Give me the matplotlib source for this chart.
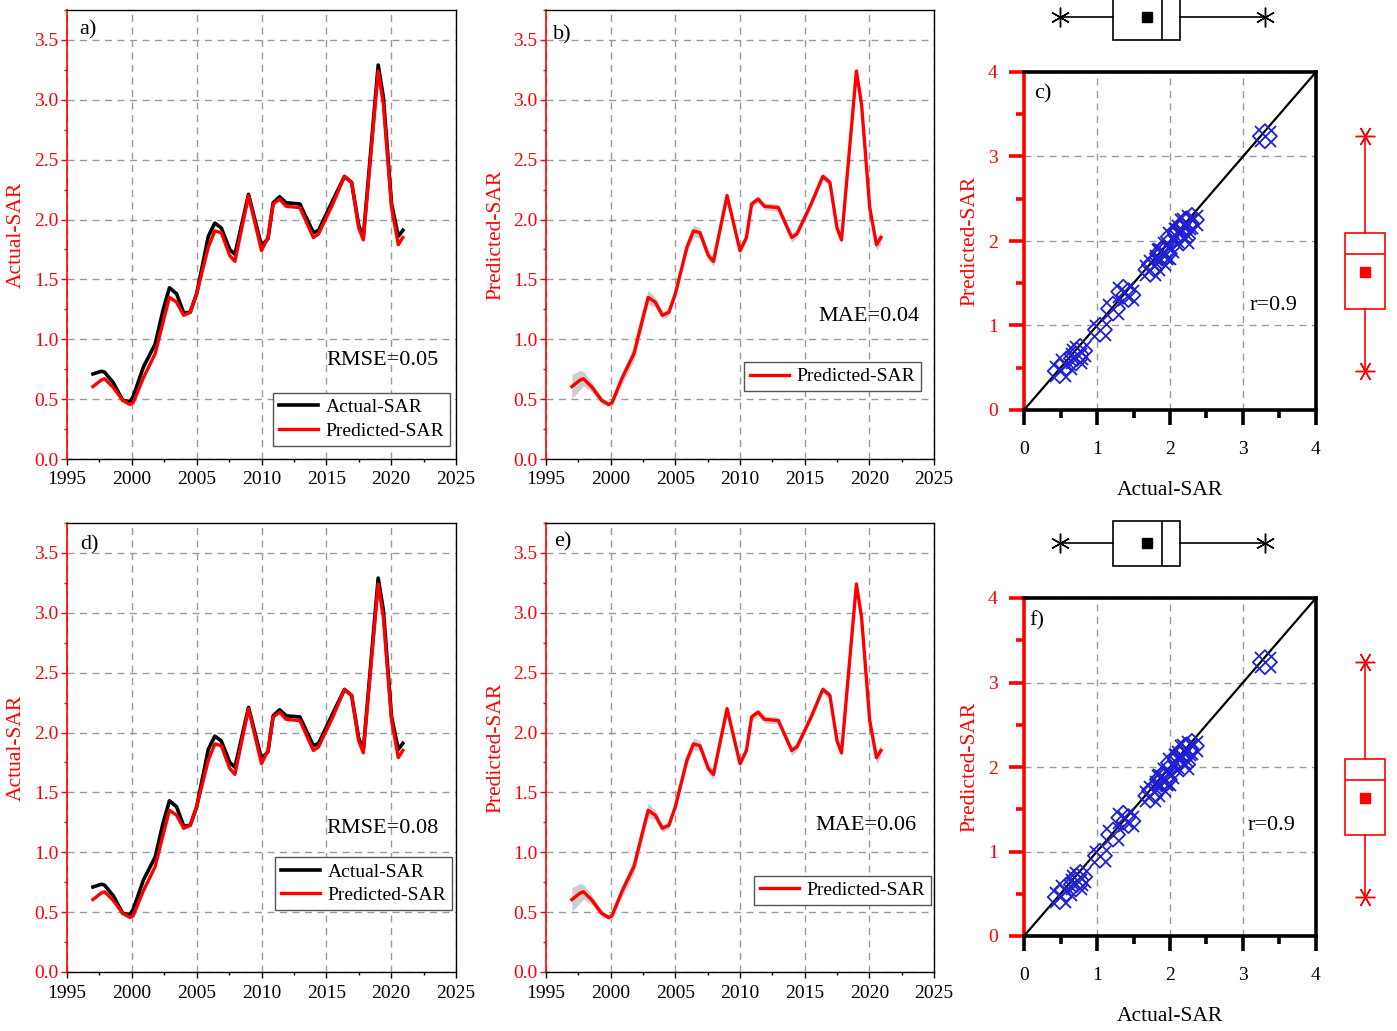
import matplotlib
matplotlib.use("Agg")
import matplotlib.pyplot as plt
import numpy as np
from matplotlib.ticker import MultipleLocator, FormatStrFormatter

plt.rcParams['font.family'] = ['Liberation Serif', 'DejaVu Serif']
plt.rcParams['mathtext.fontset'] = 'stix'

# ---------------- data ----------------
years = [1997.0, 1997.65, 1997.9, 1998.55, 1999.3, 1999.85, 2000.1, 2000.9, 2001.8, 2002.4,
         2002.9, 2003.45, 2004.0, 2004.5, 2005.0, 2005.9, 2006.4, 2006.9, 2007.55, 2007.95,
         2009.0, 2010.0, 2010.5, 2010.9, 2011.4, 2011.9, 2012.96, 2014.0, 2014.4, 2015.5,
         2016.4, 2016.95, 2017.5, 2017.85, 2019.0, 2019.4, 2020.03, 2020.55, 2020.9]
actual_sar = [0.71, 0.733, 0.725, 0.64, 0.49, 0.48, 0.52, 0.77, 0.96, 1.24,
              1.43, 1.38, 1.22, 1.225, 1.38, 1.86, 1.97, 1.93, 1.75, 1.71,
              2.21, 1.78, 1.84, 2.14, 2.19, 2.14, 2.13, 1.89, 1.91, 2.16,
              2.36, 2.31, 1.95, 1.85, 3.29, 3.02, 2.13, 1.86, 1.91]
predicted_sar = [0.605, 0.66, 0.67, 0.60, 0.49, 0.455, 0.47, 0.68, 0.88, 1.14,
                 1.35, 1.31, 1.20, 1.225, 1.38, 1.77, 1.905, 1.89, 1.70, 1.65,
                 2.20, 1.74, 1.85, 2.13, 2.17, 2.11, 2.10, 1.85, 1.88, 2.13,
                 2.36, 2.31, 1.93, 1.83, 3.24, 2.96, 2.10, 1.79, 1.85]
predicted_spread = [0.10, 0.08, 0.06, 0.04, 0.03, 0.02, 0.03, 0.05, 0.06, 0.06,
                    0.06, 0.04, 0.03, 0.03, 0.03, 0.04, 0.05, 0.04, 0.04, 0.04,
                    0.03, 0.03, 0.03, 0.03, 0.03, 0.03, 0.03, 0.04, 0.03, 0.03,
                    0.03, 0.03, 0.03, 0.03, 0.05, 0.04, 0.04, 0.05, 0.05]

# annual pairs used in scatter / box plots
annual_actual = [0.71, 0.72, 0.58, 0.49, 0.77, 1.04, 1.43, 1.22, 1.36, 1.93,
                 1.90, 1.73, 2.21, 1.78, 2.16, 2.14, 2.13, 1.89, 2.04, 2.30,
                 2.23, 1.86, 3.30, 2.18, 1.97]
annual_predicted = [0.61, 0.66, 0.55, 0.46, 0.70, 0.95, 1.36, 1.20, 1.40, 1.85,
                    1.86, 1.66, 2.20, 1.72, 2.13, 2.10, 2.10, 1.85, 2.05, 2.25,
                    2.21, 1.78, 3.24, 2.03, 1.93]

row_metrics = [("RMSE=0.05", "MAE=0.04", "r=0.9"), ("RMSE=0.08", "MAE=0.06", "r=0.9")]
panel_letters = [("a)", "b)", "c)"), ("d)", "e)", "f)")]

W, H = 1397, 1031
fig = plt.figure(figsize=(W / 100, H / 100), dpi=100)


def fr(left, top, right, bottom):
    return [left / W, 1 - bottom / H, (right - left) / W, (bottom - top) / H]


RED = '#ff0000'
BLUE = '#1f1fd6'
FS = 14


def style_ts(ax):
    ax.set_xlim(1995, 2025)
    ax.set_ylim(0, 3.75)
    ax.xaxis.set_major_locator(MultipleLocator(5))
    ax.xaxis.set_minor_locator(MultipleLocator(2.5))
    ax.yaxis.set_major_locator(MultipleLocator(0.5))
    ax.yaxis.set_minor_locator(MultipleLocator(0.25))
    ax.yaxis.set_major_formatter(FormatStrFormatter('%.1f'))
    ax.grid(True, which='major', color='#9a9a9a', linestyle=(0, (5, 4)), linewidth=1.0)
    ax.set_axisbelow(True)
    for s in ['top', 'right', 'bottom']:
        ax.spines[s].set_color('black')
        ax.spines[s].set_linewidth(1.0)
    ax.spines['left'].set_color(RED)
    ax.spines['left'].set_linewidth(1.2)
    ax.tick_params(axis='x', which='major', direction='out', length=4, width=1, labelsize=FS, pad=5)
    ax.tick_params(axis='x', which='minor', direction='out', length=2.5, width=1)
    ax.tick_params(axis='y', which='major', direction='out', length=4, width=1, colors=RED, labelsize=FS, pad=2)
    ax.tick_params(axis='y', which='minor', direction='out', length=2.5, width=1, colors=RED)


def legend(ax, anchor):
    lg = ax.legend(loc='lower right', bbox_to_anchor=anchor, borderaxespad=0, fancybox=False,
                   framealpha=1, edgecolor='#555555', fontsize=FS, handlelength=2.0,
                   handletextpad=0.4, borderpad=0.3, labelspacing=0.3)
    lg.get_frame().set_linewidth(1.0)


rows = [(10, 459, 72, 410, -10, 44), (523, 972, 598, 936, 516, 570)]
leg_a = [(0.985, 0.03), (0.99, 0.138)]
leg_b = [(0.966, 0.151), (0.992, 0.149)]
txt_a = [(0.812, 0.22), (0.812, 0.32)]
txt_b = [(0.832, 0.318), (0.825, 0.327)]
txt_r = [(0.856, 0.308), (0.849, 0.328)]
lab_pos = [((0.054, 0.955), (0.041, 0.945), (0.065, 0.935)),
           ((0.059, 0.952), (0.044, 0.958), (0.045, 0.932))]

for r, (t, b, st, sb, bt, bb) in enumerate(rows):
    # ---- time series: actual vs predicted ----
    ax1 = fig.add_axes(fr(67, t, 456, b))
    style_ts(ax1)
    ax1.plot(years, actual_sar, color='black', lw=2.6, label='Actual-SAR')
    ax1.plot(years, predicted_sar, color=RED, lw=2.4, label='Predicted-SAR')
    ax1.set_ylabel('Actual-SAR', color=RED, fontsize=15.5, labelpad=6)
    legend(ax1, leg_a[r])
    ax1.text(*txt_a[r], row_metrics[r][0], transform=ax1.transAxes, ha='center', va='center', fontsize=16)
    ax1.text(*lab_pos[r][0], panel_letters[r][0], transform=ax1.transAxes, ha='center', va='center', fontsize=16)

    # ---- time series: predicted with band ----
    ax2 = fig.add_axes(fr(546, t, 934, b))
    style_ts(ax2)
    lo = np.array(predicted_sar) - np.array(predicted_spread)
    hi = np.array(predicted_sar) + np.array(predicted_spread)
    ax2.fill_between(years, lo, hi, color='#c8c8c8', lw=0, alpha=0.9)
    ax2.plot(years, predicted_sar, color=RED, lw=2.4, label='Predicted-SAR')
    ax2.set_ylabel('Predicted-SAR', color=RED, fontsize=15.5, labelpad=6)
    legend(ax2, leg_b[r])
    ax2.text(*txt_b[r], row_metrics[r][1], transform=ax2.transAxes, ha='center', va='center', fontsize=16)
    ax2.text(*lab_pos[r][1], panel_letters[r][1], transform=ax2.transAxes, ha='center', va='center', fontsize=16)

    # ---- scatter ----
    ax3 = fig.add_axes(fr(1024, st, 1316, sb))
    ax3.set_xlim(0, 4)
    ax3.set_ylim(0, 4)
    ax3.xaxis.set_major_locator(MultipleLocator(1))
    ax3.xaxis.set_minor_locator(MultipleLocator(0.5))
    ax3.yaxis.set_major_locator(MultipleLocator(1))
    ax3.yaxis.set_minor_locator(MultipleLocator(0.5))
    ax3.grid(True, which='major', color='#9a9a9a', linestyle=(0, (5, 4)), linewidth=1.0)
    ax3.set_axisbelow(True)
    for s in ['top', 'right', 'bottom']:
        ax3.spines[s].set_linewidth(2.6)
        ax3.spines[s].set_color('black')
    ax3.spines['left'].set_linewidth(2.6)
    ax3.spines['left'].set_color(RED)
    ax3.tick_params(axis='x', which='major', direction='out', length=11, width=2.6, labelsize=FS, pad=11)
    ax3.tick_params(axis='x', which='minor', direction='out', length=6, width=2.6)
    ax3.tick_params(axis='y', which='major', direction='out', length=11, width=2.6, colors=RED, labelsize=FS, pad=8)
    ax3.tick_params(axis='y', which='minor', direction='out', length=6, width=2.6, colors=RED)
    ax3.axline((0, 0), slope=1, color='black', lw=1.6, zorder=3)
    ax3.scatter(annual_actual, annual_predicted, marker='D', s=150, facecolors='none',
                edgecolors=BLUE, linewidths=1.3, zorder=4)
    ax3.scatter(annual_actual, annual_predicted, marker='x', s=230, color=BLUE,
                linewidths=1.3, zorder=4)
    ax3.set_xlabel('Actual-SAR', fontsize=15.5, labelpad=17)
    ax3.set_ylabel('Predicted-SAR', color=RED, fontsize=15.5, labelpad=6)
    ax3.text(*txt_r[r], row_metrics[r][2], transform=ax3.transAxes, ha='center', va='center', fontsize=16)
    ax3.text(*lab_pos[r][2], panel_letters[r][2], transform=ax3.transAxes, ha='center', va='center', fontsize=16)

    # ---- top box plot (actual) ----
    axt = fig.add_axes(fr(1024, bt, 1316, bb))
    axt.boxplot(annual_actual, vert=False, positions=[0.5], widths=45 / 54, whis=(0, 100),
                showmeans=True, patch_artist=True, capwidths=0.0,
                boxprops=dict(facecolor='white', edgecolor='black', linewidth=1.2),
                medianprops=dict(color='black', linewidth=1.2),
                whiskerprops=dict(color='black', linewidth=1.2),
                capprops=dict(color='black', marker=(6, 2, 0), markersize=14, markeredgewidth=0.9),
                meanprops=dict(marker='s', markerfacecolor='black', markeredgecolor='black', markersize=7),
                showfliers=False)
    axt.set_xlim(0, 4)
    axt.set_ylim(0, 1)
    axt.axis('off')

    # ---- right box plot (predicted) ----
    axr = fig.add_axes(fr(1341, st, 1389, sb))
    axr.boxplot(annual_predicted, vert=True, positions=[0.5], widths=40 / 48, whis=(0, 100),
                showmeans=True, patch_artist=True, capwidths=0.0,
                boxprops=dict(facecolor='white', edgecolor=RED, linewidth=1.2),
                medianprops=dict(color=RED, linewidth=1.2),
                whiskerprops=dict(color=RED, linewidth=1.2),
                capprops=dict(color=RED, marker=(6, 2, 90), markersize=14, markeredgewidth=0.9),
                meanprops=dict(marker='s', markerfacecolor=RED, markeredgecolor=RED, markersize=7),
                showfliers=False)
    axr.set_ylim(0, 4)
    axr.set_xlim(0, 1)
    axr.axis('off')

fig.savefig('out.png', dpi=100)
